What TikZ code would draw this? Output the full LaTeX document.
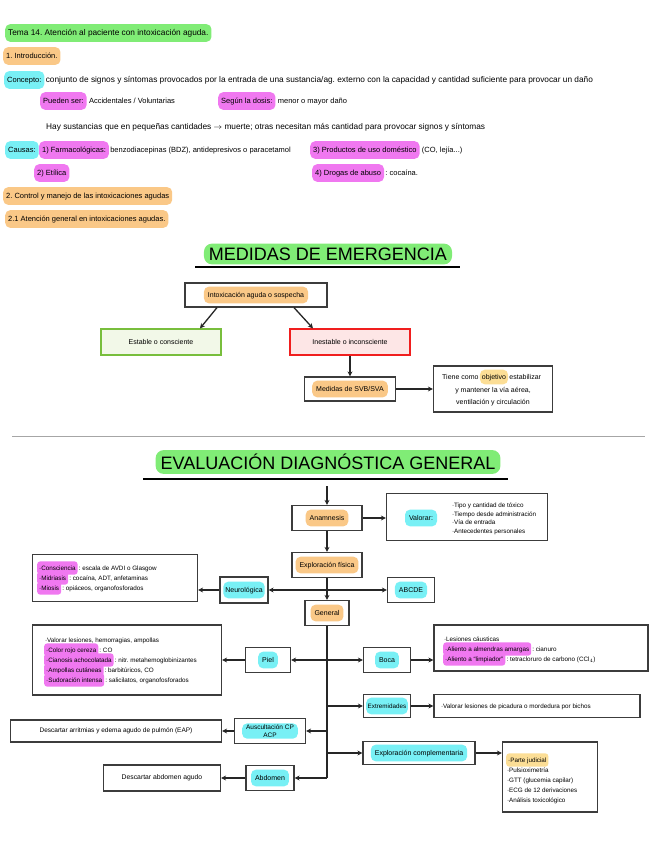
\documentclass[tikz,border=0pt]{standalone}
\usepackage{fontspec}
\setmainfont{Liberation Sans}
\usepackage{xcolor}
\usepackage{tikz}
\usetikzlibrary{arrows.meta, positioning, calc}
\frenchspacing

\definecolor{hlgreen}{RGB}{128,236,118}
\definecolor{hlorange}{RGB}{250,200,135}
\definecolor{hlcyan}{RGB}{120,240,245}
\definecolor{hlpink}{RGB}{240,120,240}
\definecolor{hlyellow}{RGB}{252,222,150}
\definecolor{boxgray}{RGB}{60,60,60}

\tikzset{
    txt/.style={font=\fontsize{7.5}{9}\selectfont, inner sep=1pt, anchor=west,
        text height=0.75em, text depth=0.22em},
    widetxt/.style={txt, font=\fontsize{8.3}{9}\selectfont},
    hl/.style={txt, rounded corners=5pt, inner xsep=3pt, inner ysep=4pt},
    boxhl/.style={font=\fontsize{7}{8}\selectfont, rounded corners=5pt,
        inner xsep=4pt, inner ysep=3.5pt, text height=0.75em, text depth=0.22em},
    listtxt/.style={font=\fontsize{6.3}{7.6}\selectfont, inner sep=0.8pt, anchor=west,
        text height=0.75em, text depth=0.22em},
    listhl/.style={listtxt, rounded corners=3pt, inner xsep=2pt, inner ysep=1.8pt},
    notebox/.style={draw=boxgray, line width=1.2pt, fill=white, inner sep=0pt},
    headline/.style={font=\fontsize{18}{21}\selectfont, fill=hlgreen, rounded corners=8pt,
        inner xsep=5pt, inner ysep=4pt},
    arr/.style={->, >={Stealth[length=5pt, width=5pt]}, line width=1.3pt, draw=black!85},
    trunk/.style={line width=1.3pt, draw=black!85}
}

\begin{document}
\begin{tikzpicture}[x=1pt, y=-1pt]

  \useasboundingbox[fill=white] (0,0) rectangle (656,848);

  % Apuntes: tema, introduccion y causas
  \node[hl, fill=hlgreen, font=\fontsize{8.3}{9}\selectfont] (tema) at (5,33) {Tema 14. Atención al paciente con intoxicación aguda.};
  \node[hl, fill=hlorange] (intro)    at (3,56)  {1. Introducción.};
  \node[hl, fill=hlcyan]   (concepto) at (4,80)  {Concepto:};
  \node[widetxt, right=0pt of concepto] (definicion) {conjunto de signos y síntomas provocados por la entrada de una sustancia/ag. externo con la capacidad y cantidad suficiente para provocar un daño};

  \node[hl, fill=hlpink] (pueden) at (40,101) {Pueden ser:};
  \node[txt, right=1pt of pueden] (tipos) {Accidentales / Voluntarias};
  \node[hl, fill=hlpink] (dosis) at (218,101) {Según la dosis:};
  \node[txt, right=1pt of dosis] (dano) {menor o mayor daño};

  \node[widetxt] (cantidad) at (45,127) {Hay sustancias que en pequeñas cantidades $\rightarrow$ muerte; otras necesitan más cantidad para provocar signos y síntomas};

  \node[hl, fill=hlcyan] (causas) at (5,150) {Causas:};
  \node[hl, fill=hlpink, right=0pt of causas] (farma) {1) Farmacológicas:};
  \node[txt, right=0pt of farma] (farmados) {benzodiacepinas (BDZ), antidepresivos o paracetamol};
  \node[hl, fill=hlpink] (domestico) at (310,150) {3) Productos de uso doméstico};
  \node[txt, right=1pt of domestico] (lejia) {(CO, lejía...)};
  \node[hl, fill=hlpink] (etilica) at (34,173) {2) Etílica};
  \node[hl, fill=hlpink] (drogas) at (312,173) {4) Drogas de abuso};
  \node[txt, right=0pt of drogas] (cocaina) {: cocaína.};

  \node[hl, fill=hlorange] (control)  at (3,196) {2. Control y manejo de las intoxicaciones agudas};
  \node[hl, fill=hlorange] (atencion) at (5,219) {2.1 Atención general en intoxicaciones agudas.};

  % Medidas de emergencia
  \node[headline] (medidas) at (328,254) {MEDIDAS DE EMERGENCIA};
  \draw[line width=2pt] (195,267) -- (460,267);

  \node[notebox, minimum width=142pt, minimum height=24pt] (intox) at (256,295) {};
  \node[boxhl, fill=hlorange] at (intox) {Intoxicación aguda o sospecha};

  \node[notebox, draw={rgb,255:red,120;green,190;blue,60}, fill={rgb,255:red,242;green,248;blue,232},
        minimum width=120pt, minimum height=26pt, font=\fontsize{7}{8}\selectfont] (estable) at (161,342) {Estable o consciente};
  \node[notebox, draw={rgb,255:red,240;green,30;blue,30}, fill={rgb,255:red,253;green,230;blue,230},
        minimum width=120pt, minimum height=26pt, font=\fontsize{7}{8}\selectfont] (inestable) at (350,342) {Inestable o inconsciente};

  \draw[arr] ([xshift=-39pt]intox.south) -- ([xshift=39pt]estable.north);
  \draw[arr] ([xshift=38pt]intox.south)  -- ([xshift=-37pt]inestable.north);

  \node[notebox, minimum width=91pt, minimum height=24pt] (svb) at (350,389) {};
  \node[boxhl, fill=hlorange] at (svb) {Medidas de SVB/SVA};
  \draw[arr] (inestable.south) -- (svb.north);

  \node[notebox, minimum width=119pt, minimum height=46pt] (objetivo) at (493,389) {};
  \node[boxhl, fill=hlyellow, inner ysep=2.5pt, inner xsep=2pt] (objclave) at (494,377) {objetivo};
  \node[boxhl, inner sep=1pt, left=0pt of objclave] (objtiene) {Tiene como};
  \node[boxhl, inner sep=1pt, right=0pt of objclave] (objestab) {estabilizar};
  \node[boxhl, inner sep=1pt] (objvia)  at (493,390) {y mantener la vía aérea,};
  \node[boxhl, inner sep=1pt] (objcirc) at (493,402) {ventilación y circulación};
  \draw[arr] (svb.east) -- (objetivo.west |- svb);

  % Separador
  \draw[gray!70, line width=0.8pt] (12,436) -- (645,436);

  % Evaluacion diagnostica general
  \node[headline] (evaluacion) at (328,462) {EVALUACIÓN DIAGNÓSTICA GENERAL};
  \draw[line width=2pt] (143,479) -- (508,479);

  \coordinate (inicio) at (327,486);
  \node[notebox, minimum width=70pt, minimum height=25pt] (anamnesis) at (327,518) {};
  \node[boxhl, fill=hlorange] at (anamnesis) {Anamnesis};
  \draw[arr] (inicio) -- (anamnesis.north);

  \node[notebox, minimum width=161pt, minimum height=47pt] (valorar) at (467,517) {};
  \node[boxhl, fill=hlcyan] (valorarhl) at (421,518) {Valorar:};
  \node[listtxt, align=left, text height=, text depth=, font=\fontsize{6.3}{8.6}\selectfont] (valorarlist) at (451,519)
    {·Tipo y cantidad de tóxico\\·Tiempo desde administración\\·Vía de entrada\\·Antecedentes personales};
  \draw[arr] (anamnesis.east) -- (valorar.west |- anamnesis);

  \node[notebox, minimum width=70pt, minimum height=25pt] (fisica) at (327,565) {};
  \node[boxhl, fill=hlorange] at (fisica) {Exploración física};
  \draw[arr] (anamnesis.south) -- (fisica.north);

  \node[notebox, minimum width=44pt, minimum height=25pt] (general) at (327,613) {};
  \node[boxhl, fill=hlorange] at (general) {General};
  \draw[arr] (fisica.south) -- (general.north);

  % Neurologica y ABCDE
  \node[notebox, minimum width=48pt, minimum height=26pt] (neuro) at (244,590) {};
  \node[boxhl, fill=hlcyan, inner xsep=2pt] at (neuro) {Neurológica};
  \node[notebox, minimum width=47pt, minimum height=25pt] (abcde) at (411,590) {};
  \node[boxhl, fill=hlcyan] at (abcde) {ABCDE};
  \coordinate (cruce) at (327,590);
  \draw[arr] (cruce) -- (neuro.east);
  \draw[arr] (cruce) -- (abcde.west);

  \node[notebox, minimum width=165pt, minimum height=47pt] (neuroinfo) at (115,578) {};
  \node[listhl, fill=hlpink] (consc) at (37,568) {·Consciencia};
  \node[listtxt, right=0pt of consc] {: escala de AVDI o Glasgow};
  \node[listhl, fill=hlpink] (midri) at (37,578) {·Midriasis};
  \node[listtxt, right=0pt of midri] {: cocaína, ADT, anfetaminas};
  \node[listhl, fill=hlpink] (miosis) at (37,588) {·Miosis};
  \node[listtxt, right=0pt of miosis] {: opiáceos, organofosforados};
  \draw[arr] (neuro.west) -- (neuroinfo.east |- neuro);

  % Ramas de la exploracion general
  \node[notebox, minimum width=45pt, minimum height=25pt] (piel) at (268,660) {};
  \node[boxhl, fill=hlcyan] at (piel) {Piel};
  \node[notebox, minimum width=47pt, minimum height=25pt] (boca) at (387,660) {};
  \node[boxhl, fill=hlcyan] at (boca) {Boca};
  \node[notebox, minimum width=47pt, minimum height=23pt] (extrem) at (387,706) {};
  \node[boxhl, fill=hlcyan, inner xsep=1.5pt, font=\fontsize{6.3}{7}\selectfont] at (extrem) {Extremidades};
  \node[notebox, minimum width=71pt, minimum height=25pt] (auscul) at (270,731) {};
  \node[boxhl, fill=hlcyan, align=center, inner ysep=1.5pt, text height=, text depth=,
        font=\fontsize{6.5}{7.5}\selectfont] at (auscul) {Auscultación CP\\ACP};
  \node[notebox, minimum width=112pt, minimum height=23pt] (complem) at (419,753) {};
  \node[boxhl, fill=hlcyan] at (complem) {Exploración complementaria};
  \node[notebox, minimum width=48pt, minimum height=25pt] (abdomen) at (270,778) {};
  \node[boxhl, fill=hlcyan] at (abdomen) {Abdomen};

  \draw[trunk] (general.south) -- (general.south |- abdomen);
  \draw[arr] (general.south |- piel)    -- (piel.east);
  \draw[arr] (general.south |- boca)    -- (boca.west);
  \draw[arr] (general.south |- extrem)  -- (extrem.west);
  \draw[arr] (general.south |- auscul)  -- (auscul.east);
  \draw[arr] (general.south |- complem) -- (complem.west);
  \draw[arr] (general.south |- abdomen) -- (abdomen.east);

  % Piel
  \node[notebox, minimum width=189pt, minimum height=70pt] (pielinfo) at (127,660) {};
  \node[listtxt] (piel1) at (44,640) {·Valorar lesiones, hemorragias, ampollas};
  \node[listhl, fill=hlpink] (piel2) at (44,650) {·Color rojo cereza};
  \node[listtxt, right=0pt of piel2] {: CO};
  \node[listhl, fill=hlpink] (piel3) at (44,660) {·Cianosis achocolatada};
  \node[listtxt, right=0pt of piel3] {: nitr. metahemoglobinizantes};
  \node[listhl, fill=hlpink] (piel4) at (44,670) {·Ampollas cutáneas};
  \node[listtxt, right=0pt of piel4] {: barbitúricos, CO};
  \node[listhl, fill=hlpink] (piel5) at (44,680) {·Sudoración intensa};
  \node[listtxt, right=0pt of piel5] {: salicilatos, organofosforados};
  \draw[arr] (piel.west) -- (pielinfo.east |- piel);

  % Boca
  \node[notebox, minimum width=214pt, minimum height=46pt] (bocainfo) at (541,648) {};
  \node[listtxt] (boca1) at (443,639) {·Lesiones cáusticas};
  \node[listhl, fill=hlpink] (boca2) at (443,649) {·Aliento a almendras amargas};
  \node[listtxt, right=0pt of boca2] {: cianuro};
  \node[listhl, fill=hlpink] (boca3) at (443,659) {·Aliento a \textquotedblleft limpiador\textquotedblright};
  \node[listtxt, right=0pt of boca3] {: tetracloruro de carbono (CCl$_4$)};
  \draw[arr] (boca.east) -- (bocainfo.west |- boca);

  % Extremidades
  \node[notebox, minimum width=206pt, minimum height=23pt] (extreminfo) at (537,706) {};
  \node[listtxt] at (440,706) {·Valorar lesiones de picadura o mordedura por bichos};
  \draw[arr] (extrem.east) -- (extreminfo.west);

  % Auscultacion
  \node[notebox, minimum width=211pt, minimum height=22pt, font=\fontsize{6.5}{7.5}\selectfont] (auscinfo) at (116,731)
    {Descartar arritmias y edema agudo de pulmón (EAP)};
  \draw[arr] (auscul.west) -- (auscinfo.east);

  % Exploracion complementaria
  \node[notebox, minimum width=95pt, minimum height=70pt] (complinfo) at (550,777) {};
  \node[listhl, fill=hlyellow] (comp1) at (506,760) {·Parte judicial};
  \node[listtxt] (comp2) at (506,770) {·Pulsioximetría};
  \node[listtxt] (comp3) at (506,780) {·GTT (glucemia capilar)};
  \node[listtxt] (comp4) at (506,790) {·ECG de 12 derivaciones};
  \node[listtxt] (comp5) at (506,800) {·Análisis toxicológico};
  \draw[arr] (complem.east) -- (complinfo.west |- complem);

  % Abdomen
  \node[notebox, minimum width=117pt, minimum height=26pt, font=\fontsize{6.8}{8}\selectfont] (abdinfo) at (162,778)
    {Descartar abdomen agudo};
  \draw[arr] (abdomen.west) -- (abdinfo.east);

\end{tikzpicture}
\end{document}
